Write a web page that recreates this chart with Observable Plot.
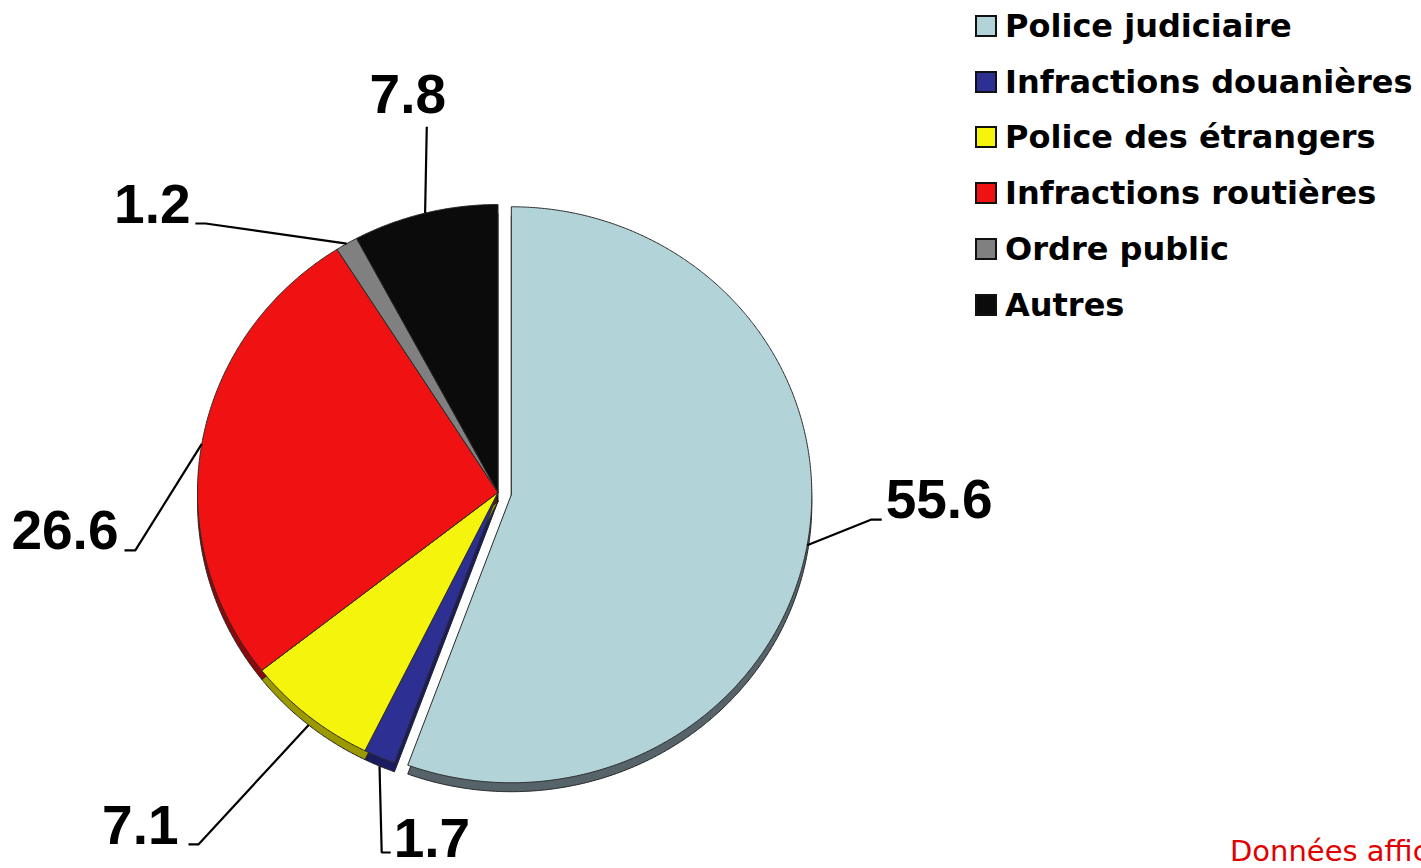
<!DOCTYPE html>
<html>
<head>
<meta charset="utf-8">
<script src="https://cdn.jsdelivr.net/npm/d3@7"></script>
<script src="https://cdn.jsdelivr.net/npm/@observablehq/plot@0.6"></script>
<style>
  html, body { margin: 0; padding: 0; background: #fff; overflow: hidden; }
  #wrap { position: relative; width: 1421px; height: 868px; overflow: hidden; }
  #legend { position: absolute; left: 975px; top: -2px; font-family: "DejaVu Sans", Verdana, sans-serif; font-weight: bold; font-size: 32px; color: #000; }
  .item { display: flex; align-items: center; height: 55.8px; white-space: nowrap; }
  .sw { width: 22px; height: 22px; box-sizing: border-box; border: 2.5px solid #111; margin-right: 8px; flex: none; }
  #note { position: absolute; left: 1230px; top: 834px; font-family: "DejaVu Sans", Tahoma, sans-serif; font-size: 29px; color: #e00000; white-space: nowrap; }
</style>
</head>
<body>
<div id="wrap">
  <div id="chart"></div>
  <div id="legend"></div>
  <div id="note">Données affichées en %</div>
</div>
<script>
// ---- data ----
const categories = ["Police judiciaire", "Infractions douanières", "Police des étrangers", "Infractions routières", "Ordre public", "Autres"];
const values = [55.6, 1.7, 7.1, 26.6, 1.2, 7.8];
const colors = ["#b2d3d7", "#2d2f92", "#f4f40c", "#f01212", "#808080", "#0b0b0b"];
const sideColors = ["#56646a", "#1b1c60", "#9c9800", "#8a0a0a", "#4a4a4a", "#000000"];
const explodeAmt = [0.045, 0, 0, 0, 0, 0];

// label layout (data units of the pie: radius = 1)
const labelElbow = [[1.243, -0.094], [-0.387, -1.25], [-0.997, -1.222], [-1.207, -0.201], [-0.973, 0.934], [-0.237, 1.27]];
const labelEnd   = [[1.277, -0.094], [-0.357, -1.25], [-1.03, -1.222], [-1.243, -0.201], [-1.007, 0.934], [-0.237, 1.27]];
const labelText  = [[1.29, -0.028], [-0.347, -1.205], [-1.063, -1.16], [-1.263, -0.135], [-1.023, 0.997], [-0.3, 1.378]];
const labelAnchor = ["start", "start", "end", "end", "end", "middle"];

const depth = 0.031;

// ---- geometry ----
const arcs = d3.pie().sort(null).value(d => d)(values);
const topFaces = [], sideFaces = [], leaders = [], texts = [];
arcs.forEach((a, i) => {
  const mid = (a.startAngle + a.endAngle) / 2;
  const ox = explodeAmt[i] * Math.sin(mid), oy = explodeAmt[i] * Math.cos(mid);
  const pts = [[ox, oy]];
  const n = Math.max(4, Math.ceil((a.endAngle - a.startAngle) / 0.005));
  for (let k = 0; k <= n; k++) {
    const t = a.startAngle + (a.endAngle - a.startAngle) * k / n;
    pts.push([ox + Math.sin(t), oy + Math.cos(t)]);
  }
  pts.push([ox, oy]);
  pts.forEach(([u, v]) => {
    topFaces.push({key: i, u, v, fill: colors[i]});
    sideFaces.push({key: i, u, v: v - depth, fill: sideColors[i]});
  });
  const sx = ox + Math.sin(mid), sy = oy + Math.cos(mid) - (Math.cos(mid) < -0.5 ? depth : 0);
  leaders.push({key: i, u: sx, v: sy});
  leaders.push({key: i, u: labelElbow[i][0], v: labelElbow[i][1]});
  leaders.push({key: i, u: labelEnd[i][0], v: labelEnd[i][1]});
  texts.push({u: labelText[i][0], v: labelText[i][1], label: values[i].toFixed(1), anchor: labelAnchor[i]});
});

const textOpts = anchor => ({x: "u", y: "v", text: "label", textAnchor: anchor, lineAnchor: "middle",
  fontSize: 55, fontWeight: "bold", fontFamily: "'Liberation Sans', Arial, sans-serif", fill: "#000"});

const chart = Plot.plot({
  width: 1421,
  height: 868,
  marginLeft: 197,
  marginRight: 623,
  marginTop: 204,
  marginBottom: 88,
  x: {domain: [-1, 1], axis: null},
  y: {domain: [-1, 1], axis: null},
  color: {type: "identity"},
  style: {background: "#fff", overflow: "visible"},
  marks: [
    Plot.line(sideFaces, {x: "u", y: "v", z: "key", fill: "fill", stroke: "#222", strokeWidth: 1, curve: "linear"}),
    Plot.line(topFaces, {x: "u", y: "v", z: "key", fill: "fill", stroke: "#2a2a2a", strokeWidth: 1, curve: "linear"}),
    Plot.line(leaders, {x: "u", y: "v", z: "key", stroke: "#000", strokeWidth: 2.2, strokeLinejoin: "miter", strokeLinecap: "butt", curve: "linear"}),
    Plot.text(texts.filter(d => d.anchor === "start"), textOpts("start")),
    Plot.text(texts.filter(d => d.anchor === "end"), textOpts("end")),
    Plot.text(texts.filter(d => d.anchor === "middle"), textOpts("middle"))
  ]
});
document.getElementById("chart").appendChild(chart);

// legend
const legend = document.getElementById("legend");
categories.forEach((c, i) => {
  const row = document.createElement("div");
  row.className = "item";
  const sw = document.createElement("span");
  sw.className = "sw";
  sw.style.background = colors[i];
  const t = document.createElement("span");
  t.textContent = c;
  row.appendChild(sw);
  row.appendChild(t);
  legend.appendChild(row);
});
</script>
</body>
</html>
